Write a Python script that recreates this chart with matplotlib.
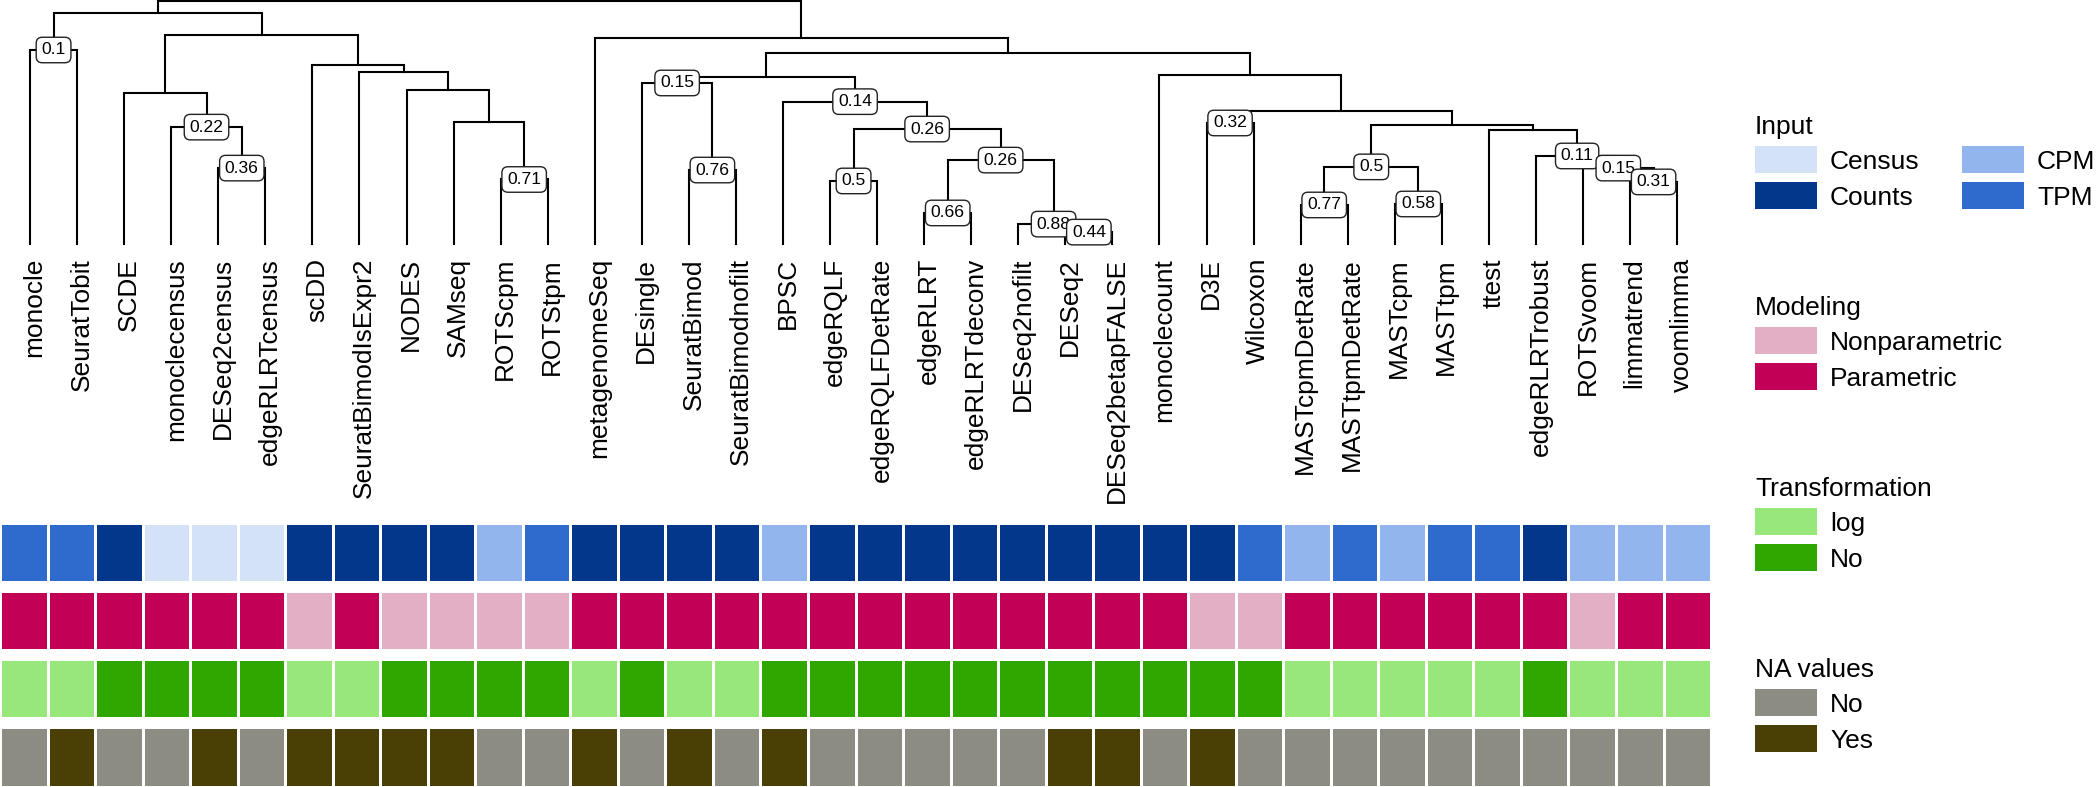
import matplotlib
matplotlib.use("Agg")
import matplotlib.pyplot as plt
import matplotlib.transforms as mtransforms
from matplotlib.colors import ListedColormap
from matplotlib.patches import Rectangle
import numpy as np

plt.rcParams['font.family'] = ['Liberation Sans', 'DejaVu Sans']

# ---------------- data ----------------
leaves = ["monocle", "SeuratTobit", "SCDE", "monoclecensus", "DESeq2census",
          "edgeRLRTcensus", "scDD", "SeuratBimodIsExpr2", "NODES", "SAMseq",
          "ROTScpm", "ROTStpm", "metagenomeSeq", "DEsingle", "SeuratBimod",
          "SeuratBimodnofilt", "BPSC", "edgeRQLF", "edgeRQLFDetRate", "edgeRLRT",
          "edgeRLRTdeconv", "DESeq2nofilt", "DESeq2", "DESeq2betapFALSE",
          "monoclecount", "D3E", "Wilcoxon", "MASTcpmDetRate", "MASTtpmDetRate",
          "MASTcpm", "MASTtpm", "ttest", "edgeRLRTrobust", "ROTSvoom",
          "limmatrend", "voomlimma"]

# merges (ints refer to earlier merges, strings to leaves)
merge_left = ["monocle", "DESeq2census", "monoclecensus", "SCDE", "ROTScpm",
              "SAMseq", "NODES", "SeuratBimodIsExpr2", "scDD", 3, 0,
              "SeuratBimod", "DEsingle", "edgeRQLF", "edgeRLRT", "DESeq2",
              "DESeq2nofilt", 14, 13, "BPSC", 12, "D3E", "MASTcpmDetRate",
              "MASTcpm", 22, "limmatrend", "ROTSvoom", "edgeRLRTrobust", "ttest",
              24, 21, "monoclecount", 20, "metagenomeSeq", 10]
merge_right = ["SeuratTobit", "edgeRLRTcensus", 1, 2, "ROTStpm",
               4, 5, 6, 7, 8, 9,
               "SeuratBimodnofilt", 11, "edgeRQLFDetRate", "edgeRLRTdeconv",
               "DESeq2betapFALSE", 15, 16, 17, 18, 19, "Wilcoxon",
               "MASTtpmDetRate", "MASTtpm", 23, "voomlimma", 25, 26, 27,
               28, 29, 30, 31, 32, 33]
merge_height = [0.800, 0.313, 0.482, 0.623, 0.266,
                0.503, 0.635, 0.709, 0.738, 0.862, 0.954,
                0.305, 0.664, 0.260, 0.128, 0.049,
                0.082, 0.346, 0.474, 0.587, 0.689, 0.499,
                0.161, 0.165, 0.318, 0.256, 0.313, 0.363, 0.470,
                0.491, 0.548, 0.697, 0.788, 0.851, 1.000]
merge_label = ["0.1", "0.36", "0.22", "", "0.71",
               "", "", "", "", "", "",
               "0.76", "0.15", "0.5", "0.66", "0.44",
               "0.88", "0.26", "0.26", "0.14", "", "0.32",
               "0.77", "0.58", "0.5", "0.31", "0.15", "0.11", "",
               "", "", "", "", "", ""]

input_vals = ["TPM", "TPM", "Counts", "Census", "Census", "Census", "Counts",
              "Counts", "Counts", "Counts", "CPM", "TPM", "Counts", "Counts",
              "Counts", "Counts", "CPM", "Counts", "Counts", "Counts", "Counts",
              "Counts", "Counts", "Counts", "Counts", "Counts", "TPM", "CPM",
              "TPM", "CPM", "TPM", "TPM", "Counts", "CPM", "CPM", "CPM"]
modeling_vals = ["Parametric"] * 6 + ["Nonparametric", "Parametric"] + \
                ["Nonparametric"] * 4 + ["Parametric"] * 13 + \
                ["Nonparametric"] * 2 + ["Parametric"] * 6 + \
                ["Nonparametric", "Parametric", "Parametric"]
transformation_vals = ["log", "log", "No", "No", "No", "No", "log", "log",
                       "No", "No", "No", "No", "log", "No", "log", "log",
                       "No", "No", "No", "No", "No", "No", "No", "No", "No",
                       "No", "No", "log", "log", "log", "log", "log", "No",
                       "log", "log", "log"]
na_vals = ["No", "Yes", "No", "No", "Yes", "No", "Yes", "Yes", "Yes", "Yes",
           "No", "No", "Yes", "No", "Yes", "No", "Yes", "No", "No", "No",
           "No", "No", "Yes", "Yes", "No", "Yes", "No", "No", "No", "No",
           "No", "No", "No", "No", "No", "No"]

input_cats = ["Census", "Counts", "CPM", "TPM"]
input_cols = ["#D3E2F6", "#02378C", "#93B5EE", "#2F6BCC"]
modeling_cats = ["Nonparametric", "Parametric"]
modeling_cols = ["#E2AFC4", "#C10056"]
transformation_cats = ["log", "No"]
transformation_cols = ["#98E77A", "#2FA700"]
na_cats = ["No", "Yes"]
na_cols = ["#8D8C83", "#4A3F04"]

row_titles = ["Input", "Modeling", "Transformation", "NA values"]

# ---------------- figure ----------------
W, H = 2100, 787
fig = plt.figure(figsize=(W / 100, H / 100), dpi=100)


def px_axes(x0, y0, x1, y1):
    return fig.add_axes([x0 / W, 1 - y1 / H, (x1 - x0) / W, (y1 - y0) / H])


n = len(leaves)
# dendrogram
axd = px_axes(6.5, 0, 6.5 + 47.06 * n, 244)
axd.set_xlim(-0.5, n - 0.5)
axd.set_ylim(0, 1.0 * 244 / 242.5)
axd.axis("off")

pos = {name: (i, 0.0) for i, name in enumerate(leaves)}
for k in range(len(merge_left)):
    xl, hl = pos[merge_left[k]]
    xr, hr = pos[merge_right[k]]
    h = merge_height[k]
    axd.plot([xl, xl, xr, xr], [hl, h, h, hr], color="black", lw=1.5,
             solid_joinstyle="miter", solid_capstyle="projecting", clip_on=False)
    pos[k] = ((xl + xr) / 2, h)

for k in reversed(range(len(merge_left))):
    if merge_label[k]:
        x, h = pos[k]
        axd.text(x, h, merge_label[k], ha="center", va="center", fontsize=12.6,
                 zorder=10 + (len(merge_left) - k),
                 bbox=dict(boxstyle="round,pad=0.3,rounding_size=0.35",
                           fc="white", ec="#222222", lw=1.0))

trans = mtransforms.blended_transform_factory(axd.transData, fig.transFigure)
for i, name in enumerate(leaves):
    axd.text(i + 11.5 / 47.06, 1 - 258 / H, name, rotation=90,
             rotation_mode="anchor", ha="right", va="baseline",
             fontsize=18.9, transform=trans, clip_on=False)

# annotation tiles
rows = [(input_vals, input_cats, input_cols),
        (modeling_vals, modeling_cats, modeling_cols),
        (transformation_vals, transformation_cats, transformation_cols),
        (na_vals, na_cats, na_cols)]
row_px = [(523, 582), (591, 650), (659, 718), (727, 787)]
for (vals, cats, cols), (t, b) in zip(rows, row_px):
    ax = px_axes(0, t, 47.53 * n, b)
    codes = np.array([[cats.index(v) for v in vals]])
    ax.pcolormesh(np.arange(n + 1) - 0.5, [0, 1], codes,
                  cmap=ListedColormap(cols), vmin=-0.5, vmax=len(cats) - 0.5,
                  edgecolors="white", linewidth=1.0)
    ax.set_xlim(-0.5, n - 0.5)
    ax.set_ylim(0, 1)
    ax.axis("off")

# legend
axl = fig.add_axes([0, 0, 1, 1])
axl.set_xlim(0, W)
axl.set_ylim(H, 0)
axl.axis("off")
axl.patch.set_alpha(0)
key_tops = [146, 327, 508, 689]
col_x = [1755, 1962]
for title, (vals, cats, cols), top in zip(row_titles, rows, key_tops):
    axl.text(col_x[0], top - 12, title, fontsize=19, ha="left", va="baseline")
    for j, (c, colr) in enumerate(zip(cats, cols)):
        kx = col_x[j // 2]
        ky = top + (j % 2) * 36
        axl.add_patch(Rectangle((kx, ky), 62, 27, fc=colr, ec="none"))
        axl.text(kx + 62 + 13, ky + 13.5 + 9.5, c, fontsize=19, ha="left",
                 va="baseline")

fig.savefig("out.png", dpi=100)
